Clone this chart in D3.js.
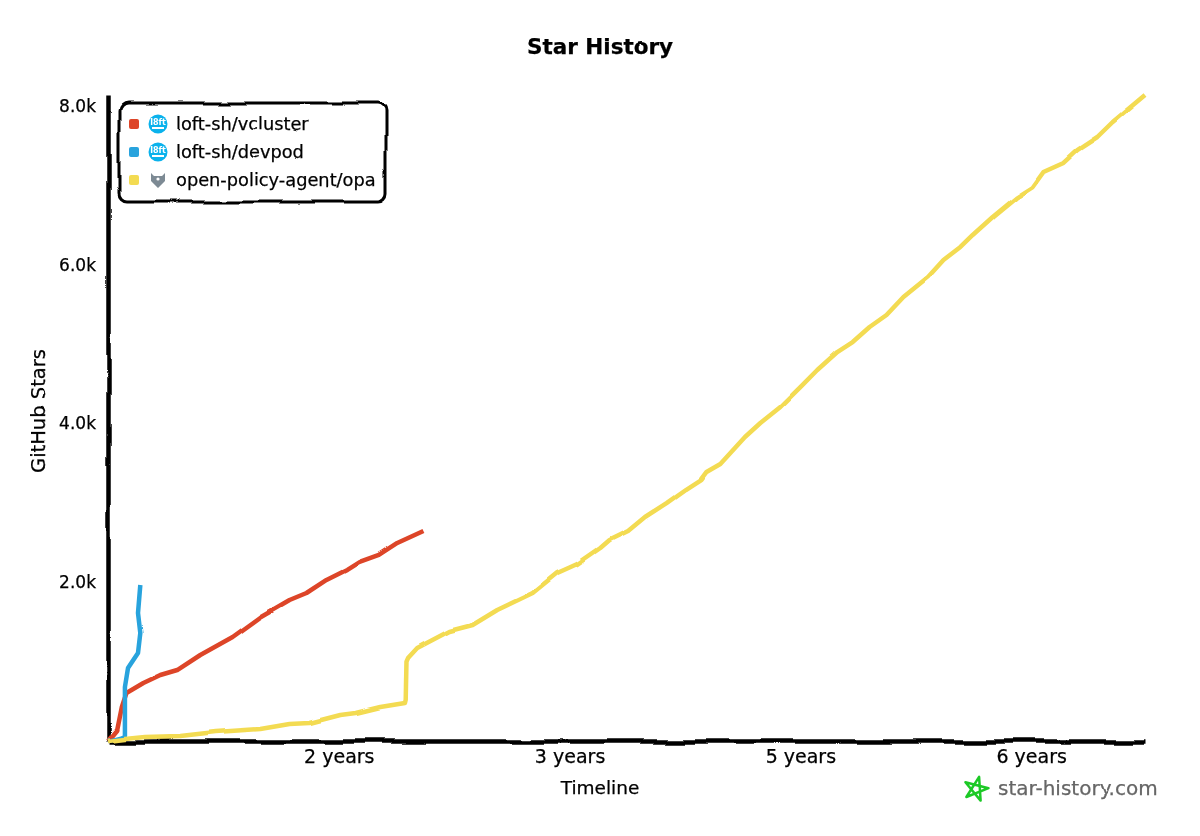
<!DOCTYPE html>
<html>
<head>
<meta charset="utf-8">
<script src="https://cdn.jsdelivr.net/npm/d3@7"></script>
<style>
  html, body { margin: 0; padding: 0; background: #fff; }
  text { font-family: "DejaVu Sans", sans-serif; fill: #000; stroke: #000; stroke-width: 0.25px; }
</style>
</head>
<body>
<div id="chartContainer"></div>
<script>
const width = 1200;
const height = 836;
const marginLeft = 108;
const marginTop = 95;
const marginRight = 55;
const marginBottom = 95;

// values: [years, stars]
const vcluster = [[0,0],[0.06,139],[0.09,428],[0.12,605],[0.23,730],[0.34,831],[0.45,894],[0.60,1083],[0.81,1310],[0.99,1562],[1.18,1776],[1.29,1864],[1.42,2028],[1.55,2154],[1.63,2254],[1.76,2343],[1.88,2494],[2.05,2645]];
const devpod = [[0,0],[0.08,38],[0.11,63],[0.11,300],[0.11,680],[0.13,919],[0.195,1108],[0.21,1360],[0.195,1612],[0.21,1965]];
const opa = [[0,0],[0.11,25],[0.24,50],[0.47,63],[0.70,113],[0.99,151],[1.18,214],[1.31,227],[1.51,327],[1.61,353],[1.77,428],[1.93,479],[1.935,520],[1.94,1000],[1.95,1045],[2.01,1171],[2.22,1385],[2.37,1461],[2.53,1650],[2.76,1864],[2.92,2116],[3.05,2229],[3.20,2431],[3.26,2531],[3.38,2645],[3.49,2821],[3.63,2997],[3.75,3161],[3.85,3287],[3.89,3388],[3.98,3489],[4.14,3829],[4.24,4005],[4.37,4207],[4.50,4458],[4.61,4673],[4.74,4899],[4.84,5025],[4.95,5214],[5.06,5365],[5.17,5592],[5.33,5844],[5.43,6058],[5.54,6222],[5.62,6373],[5.75,6599],[5.90,6839],[6.01,6977],[6.08,7166],[6.21,7280],[6.30,7443],[6.43,7607],[6.53,7796],[6.74,8136]];

const seriesNames = ["loft-sh/vcluster", "loft-sh/devpod", "open-policy-agent/opa"];
const seriesColors = ["#dd4528", "#28a3dd", "#f3db52"];
const seriesData = [vcluster, devpod, opa];

const xTicks = [1.5, 3, 4.5, 6];
const xTickLabels = ["2 years", "3 years", "5 years", "6 years"];
const yTicks = [2000, 4000, 6000, 8000];
const yTickLabels = ["2.0k", "4.0k", "6.0k", "8.0k"];

const svg = d3.select("#chartContainer").append("svg")
    .attr("width", width)
    .attr("height", height)
    .style("display", "block");

// Wobbly hand drawn look, region is big so translated groups don't get clipped
const defs = svg.append("defs");
function addWobble(id, scale, freq) {
    const filter = defs.append("filter").attr("id", id)
        .attr("filterUnits", "userSpaceOnUse")
        .attr("color-interpolation-filters", "sRGB")
        .attr("x", -width).attr("y", -height).attr("width", width * 3).attr("height", height * 3);
    filter.append("feTurbulence").attr("type", "fractalNoise").attr("baseFrequency", freq)
        .attr("numOctaves", 1).attr("seed", 4).attr("result", "noise");
    filter.append("feDisplacementMap").attr("in", "SourceGraphic").attr("in2", "noise")
        .attr("scale", scale).attr("xChannelSelector", "R").attr("yChannelSelector", "G").attr("result", "moved");
    filter.append("feGaussianBlur").attr("in", "moved").attr("stdDeviation", 0.4);
}
addWobble("wobble", 9, 0.02);
addWobble("wobbleLine", 3, 0.03);
addWobble("wobbleText", 2, 0.06);

const x = d3.scaleLinear().domain([0, 6.74]).range([marginLeft, width - marginRight]);
const y = d3.scaleLinear().domain([0, 8136]).range([height - marginBottom, marginTop]);

// Axes
const bottomAxis = d3.axisBottom(x).tickValues(xTicks).tickSize(0).tickPadding(9)
    .tickFormat((d, i) => xTickLabels[i]);
const leftAxis = d3.axisLeft(y).tickValues(yTicks).tickSize(0).tickPadding(12)
    .tickFormat((d, i) => yTickLabels[i]);

const bottomG = svg.append("g")
    .attr("transform", "translate(0," + (height - marginBottom) + ")")
    .call(bottomAxis);
const leftG = svg.append("g")
    .attr("transform", "translate(" + marginLeft + ",0)")
    .call(leftAxis);
[bottomG, leftG].forEach(g => {
    g.select(".domain").attr("stroke", "#000").attr("stroke-width", 4.5).attr("filter", "url(#wobble)");
    g.selectAll(".tick text").attr("filter", "url(#wobbleText)");
});
bottomG.selectAll(".tick text").style("font-size", "19px");
leftG.selectAll(".tick text").style("font-size", "17px");

// Lines
const line = d3.line().x(d => x(d[0])).y(d => y(d[1])).curve(d3.curveLinear);
svg.append("g").attr("filter", "url(#wobbleLine)")
    .selectAll("path")
    .data(seriesData)
    .join("path")
    .attr("d", line)
    .attr("fill", "none")
    .attr("stroke", (d, i) => seriesColors[i])
    .attr("stroke-width", 4.5)
    .attr("stroke-linejoin", "round");

// Titles
const textG = svg.append("g").attr("filter", "url(#wobbleText)");
textG.append("text").attr("x", 600).attr("y", 54).attr("text-anchor", "middle")
    .style("font-size", "21.5px").style("font-weight", 700).text("Star History");
textG.append("text").attr("x", 600).attr("y", 794).attr("text-anchor", "middle")
    .style("font-size", "18.5px").text("Timeline");
textG.append("text").attr("transform", "translate(45,411) rotate(-90)").attr("text-anchor", "middle")
    .style("font-size", "19.5px").text("GitHub Stars");

// Legend
const legend = svg.append("g");
legend.append("rect").attr("x", 119).attr("y", 103).attr("width", 267).attr("height", 99).attr("rx", 8)
    .attr("fill", "#fff").attr("stroke", "#000").attr("stroke-width", 3).attr("filter", "url(#wobble)");
const legendRow = legend.selectAll("g.row").data(seriesNames).join("g")
    .attr("class", "row")
    .attr("transform", (d, i) => "translate(0," + (124 + i * 28) + ")");
legendRow.append("rect").attr("x", 129).attr("y", -5).attr("width", 10).attr("height", 10).attr("rx", 2)
    .attr("fill", (d, i) => seriesColors[i]);
legendRow.append("text").attr("x", 176).attr("y", 6)
    .style("font-size", "17.8px").attr("filter", "url(#wobbleText)").text(d => d);

// Repo avatars
legendRow.filter((d, i) => i < 2).each(function () {
    const g = d3.select(this);
    g.append("circle").attr("cx", 158).attr("cy", 0).attr("r", 9.5).attr("fill", "#0ab2ec");
    g.append("text").attr("x", 158).attr("y", 1).attr("text-anchor", "middle")
        .style("font-size", "8px").style("font-weight", 700).style("fill", "#fff").style("stroke", "none").text("l8ft");
    g.append("rect").attr("x", 152).attr("y", 3).attr("width", 12).attr("height", 2).attr("fill", "#fff");
});
legendRow.filter((d, i) => i == 2).each(function () {
    const g = d3.select(this);
    g.append("path").attr("d", "M151,-7 L154,-4 L162,-4 L165,-7 L165,1 L158,8 L151,1 Z").attr("fill", "#7d8a94");
    g.append("circle").attr("cx", 158).attr("cy", -1).attr("r", 1.6).attr("fill", "#fff");
});

// Watermark
const mark = svg.append("g").attr("filter", "url(#wobbleText)");
const starPoints = d3.range(5).map(i => {
    const a = -Math.PI / 2 + 0.25 + i * 4 * Math.PI / 5;
    return [976 + 12.5 * Math.cos(a), 789 + 12.5 * Math.sin(a)];
});
mark.append("polygon").attr("points", starPoints.map(p => p.join(",")).join(" "))
    .attr("fill", "none").attr("stroke", "#1cc926").attr("stroke-width", 2.5).attr("stroke-linejoin", "round");
mark.append("text").attr("x", 998).attr("y", 795)
    .style("font-size", "20px").style("fill", "#666").style("stroke", "#666").text("star-history.com");
</script>
</body>
</html>
